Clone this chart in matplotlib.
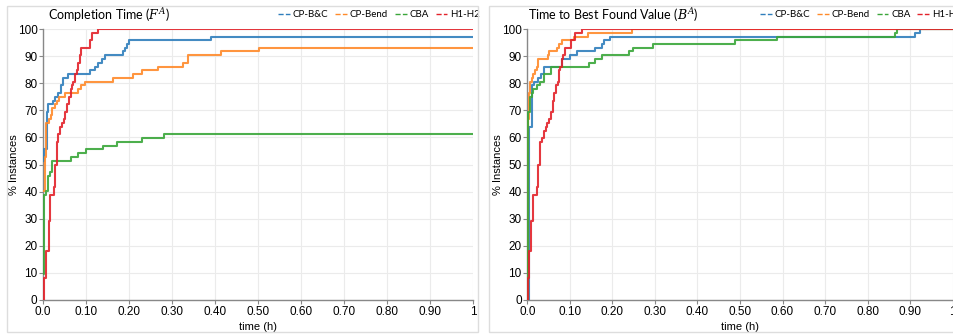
import matplotlib
matplotlib.use("Agg")
import matplotlib.pyplot as plt
from matplotlib.lines import Line2D
from matplotlib.patches import Rectangle

series = ["CP-B&C", "CP-Bend", "CBA", "H1-H2"]
colors = ["#2f7ebc", "#ff8a2a", "#3aa63a", "#e3222a"]

# Completion time (F^A): step points (time h, % instances)
fa_bc_t = [0.0, 0.002, 0.009, 0.012, 0.024, 0.028, 0.036, 0.043, 0.047, 0.059, 0.109, 0.121, 0.129, 0.137, 0.144, 0.185, 0.191, 0.195, 0.201, 0.390, 1.0]
fa_bc_y = [51.4, 55.6, 69.4, 72.2, 73.6, 75.0, 76.4, 79.2, 81.9, 83.3, 84.7, 86.1, 87.5, 88.9, 90.3, 91.7, 93.1, 94.4, 95.8, 97.2, 97.2]
fa_bend_t = [0.0, 0.004, 0.007, 0.015, 0.018, 0.022, 0.028, 0.032, 0.038, 0.051, 0.082, 0.088, 0.098, 0.163, 0.210, 0.230, 0.268, 0.326, 0.338, 0.414, 0.502, 1.0]
fa_bend_y = [40.3, 52.8, 65.3, 66.7, 68.1, 70.8, 72.2, 73.6, 75.0, 76.4, 77.8, 79.2, 80.6, 81.9, 83.3, 84.7, 86.1, 87.5, 90.3, 91.7, 93.1, 93.1]
fa_cba_t = [0.0, 0.003, 0.007, 0.012, 0.016, 0.020, 0.065, 0.082, 0.100, 0.140, 0.173, 0.230, 0.282, 1.0]
fa_cba_y = [9.7, 38.9, 40.3, 45.8, 47.2, 51.4, 52.8, 54.2, 55.6, 56.9, 58.3, 59.7, 61.1, 61.1]
fa_h_t = [0.0, 0.002, 0.008, 0.013, 0.017, 0.025, 0.027, 0.032, 0.036, 0.040, 0.044, 0.048, 0.052, 0.056, 0.060, 0.064, 0.067, 0.070, 0.075, 0.078, 0.081, 0.086, 0.089, 0.110, 0.113, 0.128, 1.0]
fa_h_y = [0.0, 8.3, 18.1, 29.2, 38.9, 41.7, 50.0, 58.3, 61.1, 63.9, 65.3, 66.7, 69.4, 72.2, 75.0, 77.8, 79.2, 80.6, 83.3, 84.7, 87.5, 90.3, 93.1, 95.8, 98.6, 100.0, 100.0]

# Time to best found value (B^A)
ba_bc_t = [0.0, 0.003, 0.010, 0.016, 0.026, 0.033, 0.040, 0.081, 0.100, 0.116, 0.159, 0.175, 0.180, 0.194, 0.911, 0.923, 1.0]
ba_bc_y = [0.0, 63.9, 79.2, 80.6, 81.9, 83.3, 86.1, 88.9, 90.3, 91.7, 93.1, 94.4, 95.8, 97.2, 98.6, 100.0, 100.0]
ba_bend_t = [0.0, 0.002, 0.004, 0.006, 0.010, 0.014, 0.018, 0.022, 0.026, 0.049, 0.052, 0.070, 0.074, 0.082, 0.110, 0.143, 0.245, 1.0]
ba_bend_y = [0.0, 66.7, 76.4, 80.6, 81.9, 83.3, 84.7, 86.1, 88.9, 90.3, 91.7, 93.1, 94.4, 95.8, 97.2, 98.6, 100.0, 100.0]
ba_cba_t = [0.0, 0.001, 0.006, 0.010, 0.014, 0.022, 0.030, 0.039, 0.055, 0.146, 0.159, 0.175, 0.238, 0.249, 0.296, 0.488, 0.586, 0.864, 0.868, 1.0]
ba_cba_y = [0.0, 69.4, 75.0, 76.4, 77.8, 79.2, 80.6, 83.3, 86.1, 87.5, 88.9, 90.3, 91.7, 93.1, 94.4, 95.8, 97.2, 98.6, 100.0, 100.0]
ba_h_t = [0.0, 0.001, 0.005, 0.009, 0.013, 0.022, 0.026, 0.031, 0.034, 0.039, 0.043, 0.047, 0.051, 0.055, 0.060, 0.063, 0.067, 0.071, 0.075, 0.078, 0.081, 0.085, 0.089, 0.102, 0.112, 0.128, 1.0]
ba_h_y = [0.0, 8.3, 18.1, 29.2, 38.9, 41.7, 50.0, 58.3, 59.7, 62.5, 63.9, 65.3, 66.7, 69.4, 73.6, 76.4, 79.2, 80.6, 84.7, 86.1, 88.9, 90.3, 93.1, 95.8, 98.6, 100.0, 100.0]

x_ticks = [0.0, 0.1, 0.2, 0.3, 0.4, 0.5, 0.6, 0.7, 0.8, 0.9, 1.0]
x_labels = ["0.0", "0.10", "0.20", "0.30", "0.40", "0.50", "0.60", "0.70", "0.80", "0.90", "1"]

panels = [
    (r"Completion Time ($\boldsymbol{F^A}$)",
     [(fa_bc_t, fa_bc_y), (fa_bend_t, fa_bend_y), (fa_cba_t, fa_cba_y), (fa_h_t, fa_h_y)]),
    (r"Time to Best Found Value ($\boldsymbol{B^A}$)",
     [(ba_bc_t, ba_bc_y), (ba_bend_t, ba_bend_y), (ba_cba_t, ba_cba_y), (ba_h_t, ba_h_y)]),
]

plt.rcParams["font.family"] = ["Liberation Sans", "DejaVu Sans"]
plt.rcParams["mathtext.fontset"] = "dejavuserif"

W, H = 954, 334
fig = plt.figure(figsize=(W / 100, H / 100), dpi=100)

# panel frames
for x0, x1 in [(7, 478), (489, 960)]:
    fig.patches.append(Rectangle((x0 / W, 2 / H), (x1 - x0) / W, (H - 8) / H,
                                 transform=fig.transFigure, fill=False,
                                 edgecolor="#dddddd", lw=1))

axes_px = [(43, 473), (527.3, 952.7)]
title_dx = [5, 1]
for (px0, px1), dx, (title, data) in zip(axes_px, title_dx, panels):
    ax = fig.add_axes([px0 / W, 34 / H, (px1 - px0) / W, 271 / H])
    for (t, y), c in zip(data, colors):
        ax.step(t, y, where="post", color=c, lw=1.5, alpha=0.9, zorder=3)
    ax.set_xlim(0, 1)
    ax.set_ylim(0, 100)
    ax.set_yticks(range(0, 101, 10))
    ax.set_xticks(x_ticks)
    ax.set_xticklabels(x_labels)
    ax.grid(True, color="#ebebeb", lw=0.8)
    ax.set_axisbelow(True)
    for s in ["top", "right"]:
        ax.spines[s].set_visible(False)
    for s in ["left", "bottom"]:
        ax.spines[s].set_color("#888888")
        ax.spines[s].set_linewidth(1)
    ax.tick_params(axis="both", labelsize=8.5, color="#888888", length=3, pad=1)
    ax.set_ylabel("% Instances", fontsize=8, labelpad=-1)
    ax.set_xlabel("time (h)", fontsize=8, labelpad=3)
    ax.text(dx / (px1 - px0), 1 + 9 / 271, title, transform=ax.transAxes, fontsize=9,
            family=["Lato", "DejaVu Sans"], va="baseline", ha="left")
    handles = [Line2D([], [], color=c, lw=1, ls="--") for c in colors]
    ax.legend(handles, series, ncol=4, loc="center left", bbox_to_anchor=(0.547, 1.052),
              frameon=False, prop={"family": ["Lato", "DejaVu Sans"], "size": 7},
              handlelength=1.2, handletextpad=0.3, columnspacing=0.7,
              borderpad=0, borderaxespad=0)

fig.savefig("out.png", dpi=100)
